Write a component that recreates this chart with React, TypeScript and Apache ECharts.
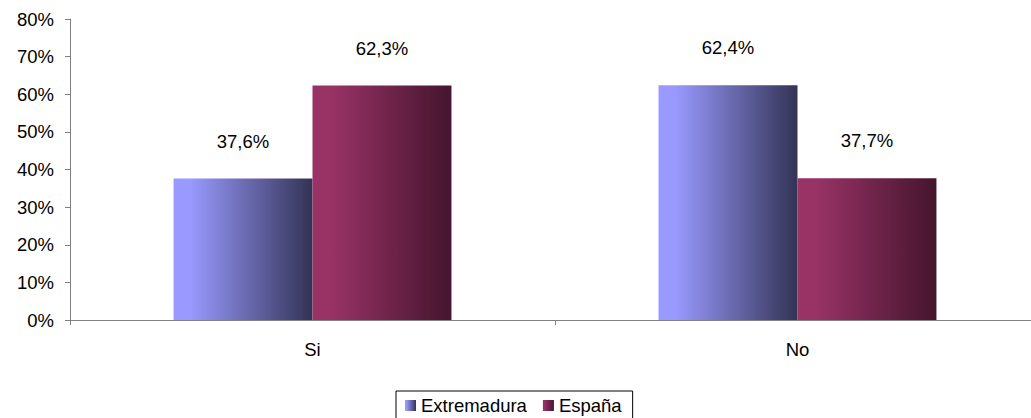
import React, { useEffect, useRef } from "react";
import * as echarts from "echarts";

const categories = ["Si", "No"];
const extremadura = [37.6, 62.4];
const espana = [62.3, 37.7];
const yTicks = [0, 10, 20, 30, 40, 50, 60, 70, 80];

const grad = (a: string, b: string) =>
  new echarts.graphic.LinearGradient(0, 0, 1, 0, [
    { offset: 0, color: a },
    { offset: 0.12, color: a },
    { offset: 1, color: b },
  ]);

export default function App() {
  const ref = useRef<HTMLDivElement>(null);
  useEffect(() => {
    const chart = echarts.init(ref.current!, null, { renderer: "svg" });
    const font = "Liberation Sans, Arial, sans-serif";
    const fs = 18.5;
    const label = {
      show: true,
      position: "top" as const,
      distance: 28,
      fontFamily: font,
      fontSize: fs,
      color: "#000",
      formatter: (p: any) => p.value.toFixed(1).replace(".", ",") + "%",
    };
    chart.setOption({
      animation: false,
      textStyle: { fontFamily: font },
      grid: { left: 70, top: 19, width: 970, height: 301, containLabel: false },
      legend: {
        top: 391,
        left: 396,
        itemWidth: 11,
        itemHeight: 11,
        itemGap: 16,
        padding: [5, 11, 10, 9],
        borderColor: "#000",
        borderWidth: 1,
        textStyle: { fontSize: fs, color: "#000", fontFamily: font },
        icon: "rect",
        data: ["Extremadura", "España"],
      },
      xAxis: {
        type: "category",
        data: categories,
        axisLine: { lineStyle: { color: "#808080" } },
        axisTick: { show: true, length: 5, lineStyle: { color: "#808080" } },
        axisLabel: { fontSize: fs, color: "#000", margin: 20, fontFamily: font },
      },
      yAxis: {
        type: "value",
        min: yTicks[0],
        max: yTicks[yTicks.length - 1],
        interval: 10,
        axisLine: { show: true, lineStyle: { color: "#808080" } },
        axisTick: { show: true, length: 5, lineStyle: { color: "#808080" } },
        splitLine: { show: false },
        axisLabel: { fontSize: fs, color: "#000", margin: 16, formatter: "{value}%", fontFamily: font },
      },
      series: [
        {
          name: "Extremadura",
          type: "bar",
          data: extremadura,
          barGap: "0%",
          barCategoryGap: "42.7%",
          itemStyle: { color: grad("#9999ff", "#333355") },
          label,
        },
        {
          name: "España",
          type: "bar",
          data: espana,
          itemStyle: { color: grad("#993366", "#45152e") },
          label,
        },
      ],
    });
    return () => chart.dispose();
  }, []);
  return (
    <div
      style={{ position: "absolute", left: 0, top: 0, width: 1031, height: 418, overflow: "hidden" }}
    >
      <div ref={ref} style={{ position: "absolute", left: 0, top: 0, width: 1045, height: 418 }} />
    </div>
  );
}
